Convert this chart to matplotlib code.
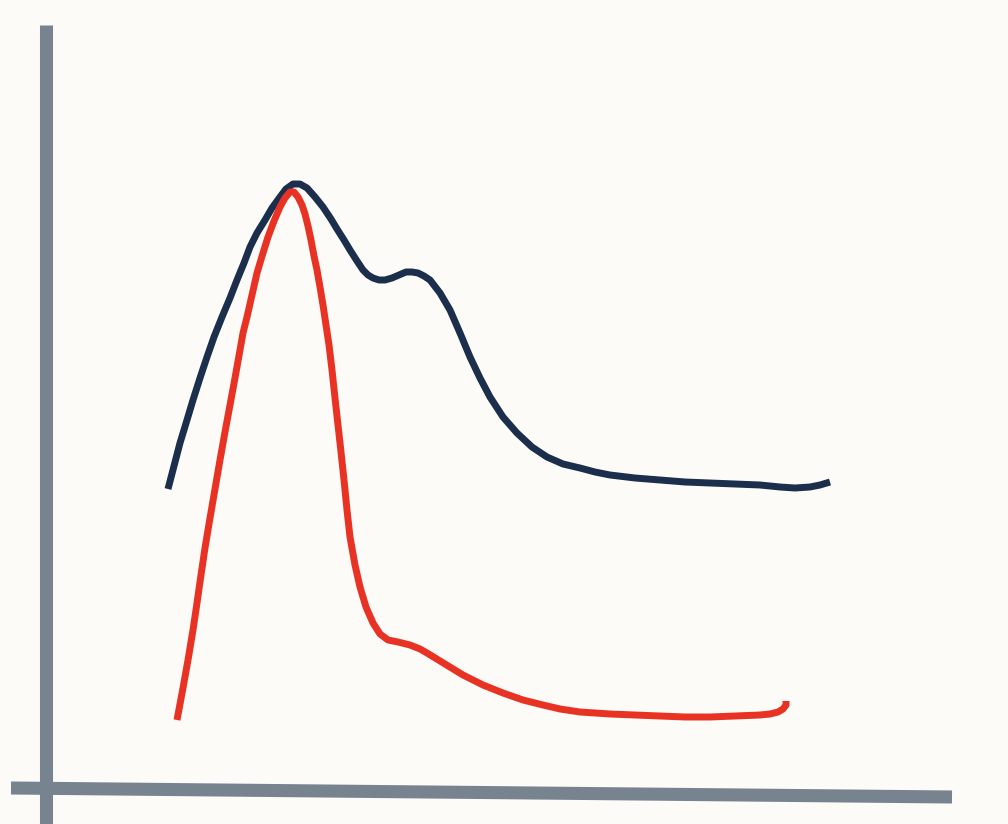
import matplotlib
matplotlib.use("Agg")
from matplotlib import pyplot as plt
import numpy as np

# curves (x to the right, y up, origin at the axes corner)
navy_x = [122, 128, 134, 141, 147, 154, 161, 168, 176, 184, 191, 198, 204, 211, 219,
          226, 234, 240, 247, 254, 261, 269, 277, 285, 291, 298, 304, 311, 317, 322,
          327, 333, 339, 346, 353, 360, 366, 372, 378, 384, 394, 404, 414, 424, 434,
          444, 457, 471, 486, 501, 517, 534, 549, 564, 589, 614, 639, 664, 689, 714,
          734, 749, 764, 774, 784]
navy_y = [301, 324, 347, 370, 390, 412, 433, 453, 473, 492, 510, 527, 543, 557, 570,
          582, 593, 601, 606, 606, 602, 593, 583, 571, 561, 550, 540, 529, 520, 515,
          512, 510, 510, 512, 515, 518, 518, 517, 514, 510, 497, 480, 457, 433, 412,
          393, 373, 357, 343, 333, 326, 322, 318, 315, 312, 310, 308, 307, 306, 305,
          303, 302, 303, 305, 308]

red_x = [131, 137, 142, 147, 151, 155, 159, 164, 169, 174, 179, 184, 189, 194, 197,
         201, 206, 211, 217, 222, 228, 234, 239, 244, 248, 252, 256, 259, 262, 265,
         268, 271, 274, 277, 280, 283, 286, 289, 292, 295, 298, 301, 304, 309, 314,
         320, 327, 334, 342, 352, 364, 374, 381, 399, 417, 437, 457, 477, 497, 514,
         534, 564, 589, 614, 639, 664, 689, 714, 724, 732, 737, 740, 740]
red_y = [70, 102, 130, 160, 187, 215, 242, 272, 301, 330, 358, 385, 412, 440, 457,
         473, 495, 517, 537, 553, 569, 583, 592, 598, 598, 593, 585, 576, 564, 550,
         534, 520, 503, 485, 465, 445, 420, 392, 365, 338, 310, 280, 253, 225, 203,
         183, 167, 156, 150, 148, 145, 141, 137, 126, 115, 105, 97, 90, 85, 81,
         78, 76, 75, 74, 73, 73, 74, 75, 76, 78, 81, 85, 89]

# the two hand drawn axes
yaxis_x = [0, 0]
yaxis_y = [-40, 765]
xaxis_x = [-35, 906]
xaxis_y = [2, -7]

bg = "#fcfbf7"
fig = plt.figure(figsize=(10.08, 8.24), dpi=100, facecolor=bg)
ax = fig.add_axes([0, 0, 1, 1])
ax.set_facecolor(bg)
ax.set_xlim(-46, 962)
ax.set_ylim(-34, 790)
ax.axis("off")

ax.plot(yaxis_x, yaxis_y, color="#788390", lw=9.4, solid_capstyle="butt")
ax.plot(xaxis_x, xaxis_y, color="#788390", lw=9.4, solid_capstyle="butt")

ax.plot(navy_x, navy_y, color="#1b2e4b", lw=5.0, solid_capstyle="butt", solid_joinstyle="round")
ax.plot(red_x, red_y, color="#e83223", lw=5.0, solid_capstyle="butt", solid_joinstyle="round")

fig.savefig("out.png", dpi=100, facecolor=bg)
